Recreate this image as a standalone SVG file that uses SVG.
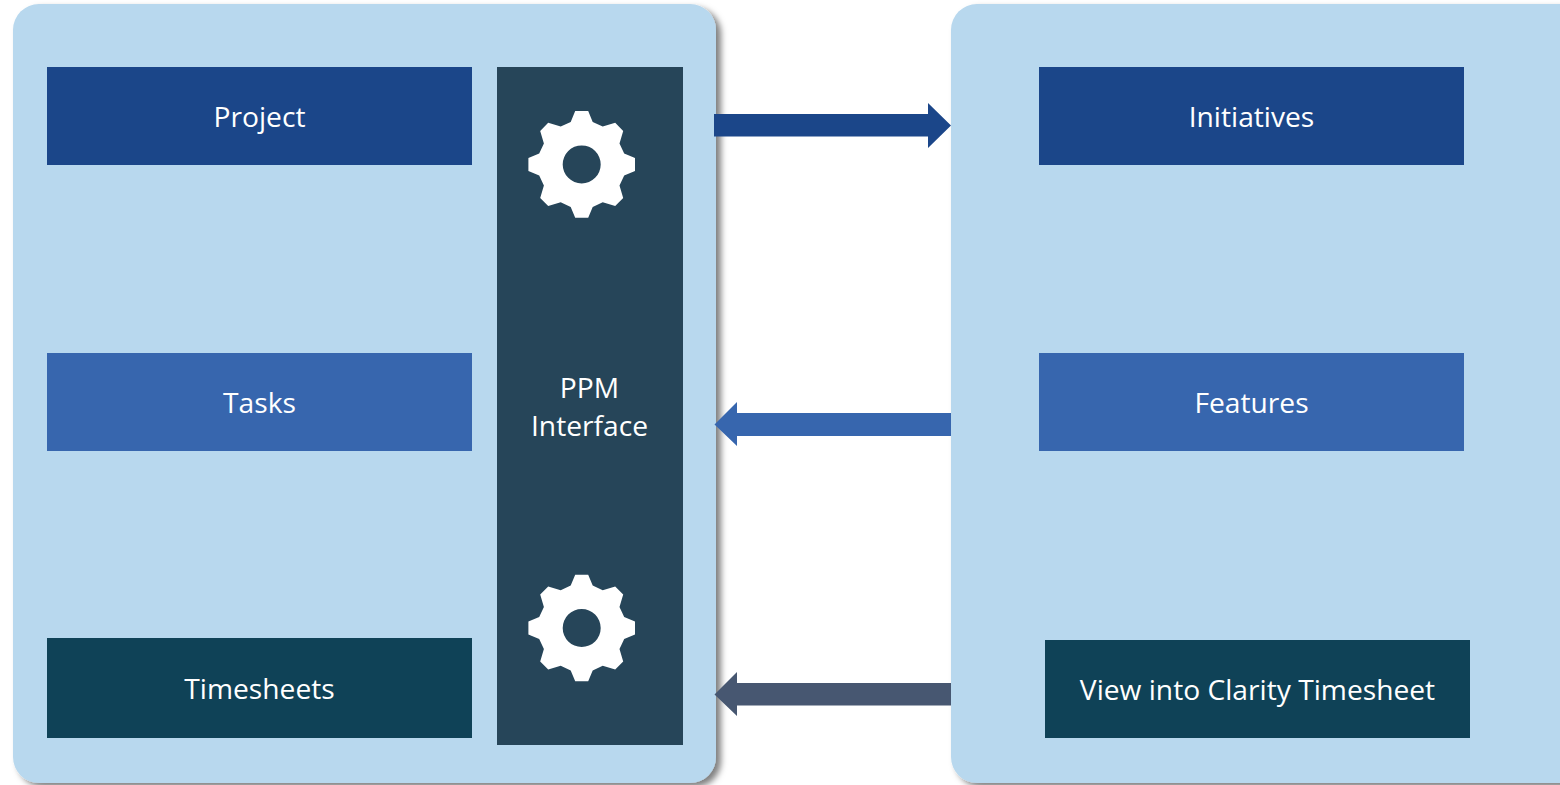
<svg xmlns="http://www.w3.org/2000/svg" width="1560" height="785" viewBox="0 0 1560 785">
<style>
.panel{fill:#b8d8ee;filter:url(#sh)}
.t{fill:#fff;font-family:"Open Sans","Noto Sans","Liberation Sans",sans-serif;font-size:28.2px;text-anchor:middle}
.c1{fill:#1b4689}.c2{fill:#3766ae}.c3{fill:#0f4257}.c4{fill:#264559}.c5{fill:#475771}
</style>
<defs>
<filter id="sh" x="-5%" y="-5%" width="110%" height="110%"><feDropShadow dx="5" dy="4" stdDeviation="3" flood-color="#000" flood-opacity="0.5"/></filter>
<path id="gear" fill="#fff" fill-rule="evenodd" d="M6.5-53.3L11-42.5 21-37.8 33.5-41.6 41.5-33.5 37.8-21 42.5-11 53.3-6.5V6.5L42.5 11 37.8 21 41.5 33.5 33.5 41.6 21 37.8 11 42.5 6.5 53.3H-6.5L-11 42.5-21 37.8-33.5 41.6-41.5 33.5-37.8 21-42.5 11-53.3 6.5V-6.5L-42.5-11-37.8-21-41.5-33.5-33.5-41.6-21-37.8-11-42.5-6.5-53.3ZM19 0A19 19 0 1 0-19 0 19 19 0 1 0 19 0Z"/>
</defs>
<rect width="1560" height="785" fill="#fff"/>
<g id="panel-left"><rect class="panel" x="13" y="4" width="703" height="779" rx="26"/></g>
<g id="panel-right"><rect class="panel" x="951" y="4" width="640" height="779" rx="26"/></g>
<g id="node-project"><rect class="c1" x="47" y="67" width="425" height="98"/><text class="t" x="259.500" y="126.500">Project</text></g>
<g id="node-tasks"><rect class="c2" x="47" y="353" width="425" height="98"/><text class="t" x="259.500" y="412.500">Tasks</text></g>
<g id="node-timesheets"><rect class="c3" x="47" y="638" width="425" height="100"/><text class="t" x="259.500" y="698.500">Timesheets</text></g>
<g id="node-ppm"><rect class="c4" x="497" y="67" width="186" height="678"/>
<use href="#gear" x="581.700" y="164.400"/><use href="#gear" x="581.700" y="628"/>
<text class="t" x="589.500" y="397.500">PPM</text><text class="t" x="589.500" y="435.500">Interface</text></g>
<g id="node-initiatives"><rect class="c1" x="1039" y="67" width="425" height="98"/><text class="t" x="1251.500" y="126.500">Initiatives</text></g>
<g id="node-features"><rect class="c2" x="1039" y="353" width="425" height="98"/><text class="t" x="1251.500" y="412.500">Features</text></g>
<g id="node-view"><rect class="c3" x="1045" y="640" width="425" height="98"/><text class="t" x="1257.500" y="699.500">View into Clarity Timesheet</text></g>
<g id="connectors">
<path class="c1" d="M714 114H928V103L951 125.500 928 148V136.500H714Z"/>
<path class="c2" d="M951 413H737V402L714.500 424.500 737 446V436H951Z"/>
<path class="c5" d="M951 683H737V672L714.500 694.500 737 716V705.500H951Z"/>
</g>
</svg>
